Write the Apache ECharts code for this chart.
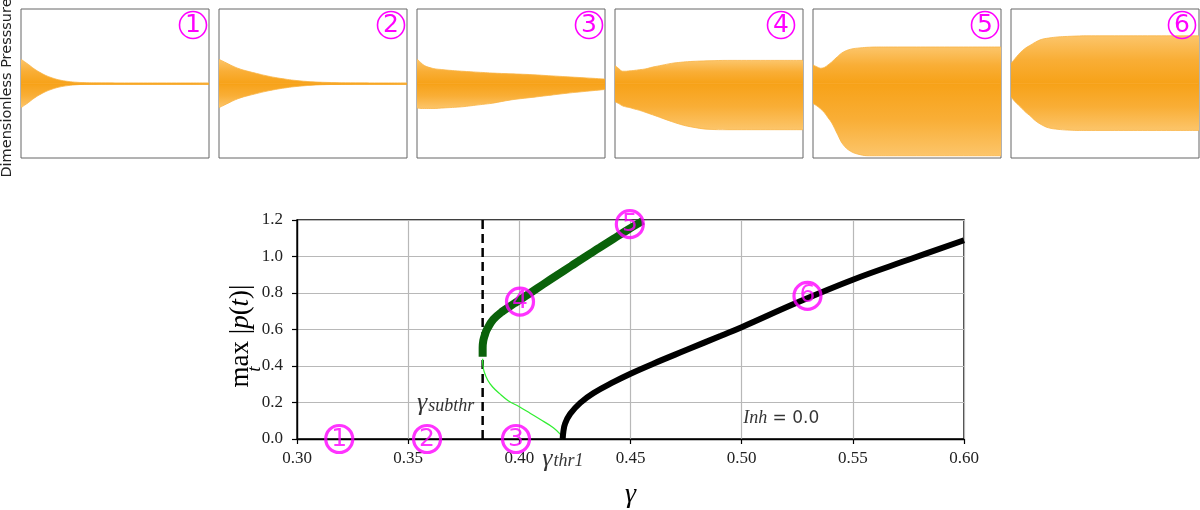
<!DOCTYPE html>
<html>
<head>
<meta charset="utf-8">
<script src="https://cdn.jsdelivr.net/npm/echarts/dist/echarts.min.js"></script>
<style>
  html, body { margin: 0; padding: 0; background: #fff; }
  #main { width: 1200px; height: 510px; }
</style>
</head>
<body>
<div id="main"></div>
<script>
// time samples (percent of the window) for the six pressure traces
const T = [0, 2, 4, 6, 8, 10, 13, 16, 20, 25, 30, 35, 40, 50, 60, 70, 80, 90, 100];

// upper / lower envelopes of the dimensionless pressure, one pair per panel
const P1_UP = [0.325, 0.29, 0.255, 0.215, 0.18, 0.15, 0.11, 0.08, 0.05, 0.028, 0.016, 0.011, 0.009, 0.008, 0.008, 0.008, 0.008, 0.008, 0.008];
const P1_LO = [-0.325, -0.29, -0.255, -0.215, -0.18, -0.15, -0.11, -0.08, -0.05, -0.028, -0.016, -0.011, -0.009, -0.008, -0.008, -0.008, -0.008, -0.008, -0.008];
const P2_UP = [0.325, 0.30, 0.275, 0.25, 0.226, 0.205, 0.18, 0.16, 0.135, 0.105, 0.08, 0.06, 0.043, 0.022, 0.013, 0.009, 0.008, 0.008, 0.008];
const P2_LO = [-0.325, -0.30, -0.275, -0.25, -0.226, -0.205, -0.18, -0.16, -0.135, -0.105, -0.08, -0.06, -0.043, -0.022, -0.013, -0.009, -0.008, -0.008, -0.008];
const P3_UP = [0.33, 0.28, 0.24, 0.22, 0.205, 0.195, 0.188, 0.18, 0.172, 0.163, 0.155, 0.148, 0.14, 0.13, 0.12, 0.105, 0.09, 0.075, 0.06];
const P3_LO = [-0.33, -0.335, -0.335, -0.335, -0.335, -0.335, -0.33, -0.325, -0.32, -0.31, -0.295, -0.28, -0.265, -0.22, -0.19, -0.16, -0.13, -0.105, -0.08];
const P4_UP = [0.24, 0.20, 0.165, 0.165, 0.17, 0.175, 0.185, 0.195, 0.22, 0.245, 0.27, 0.285, 0.295, 0.305, 0.31, 0.31, 0.31, 0.31, 0.31];
const P4_LO = [-0.245, -0.27, -0.30, -0.315, -0.325, -0.34, -0.36, -0.385, -0.42, -0.465, -0.51, -0.55, -0.58, -0.615, -0.62, -0.62, -0.62, -0.62, -0.62];
const P5_UP = [0.25, 0.225, 0.205, 0.215, 0.25, 0.29, 0.36, 0.42, 0.46, 0.478, 0.487, 0.49, 0.49, 0.49, 0.49, 0.49, 0.49, 0.49, 0.49];
const P5_LO = [-0.27, -0.30, -0.34, -0.39, -0.46, -0.53, -0.68, -0.82, -0.91, -0.955, -0.97, -0.97, -0.97, -0.97, -0.97, -0.97, -0.97, -0.97, -0.97];
const P6_UP = [0.27, 0.33, 0.39, 0.44, 0.48, 0.51, 0.555, 0.59, 0.61, 0.625, 0.632, 0.637, 0.64, 0.64, 0.64, 0.64, 0.64, 0.64, 0.64];
const P6_LO = [-0.18, -0.24, -0.29, -0.34, -0.39, -0.43, -0.50, -0.55, -0.595, -0.615, -0.625, -0.63, -0.63, -0.63, -0.63, -0.63, -0.63, -0.63, -0.63];
const PANEL_TAGS = ['1', '2', '3', '4', '5', '6'];

// bifurcation diagram: [gamma, max|p|]
const STABLE_UPPER = [[0.3835, 0.451], [0.3835, 0.50], [0.3838, 0.54], [0.3845, 0.57], [0.3855, 0.602], [0.3883, 0.655],
  [0.3925, 0.700], [0.3980, 0.745], [0.4045, 0.797], [0.4108, 0.848], [0.4170, 0.898], [0.4233, 0.948], [0.4296, 0.998],
  [0.4361, 1.048], [0.4425, 1.098], [0.4490, 1.148], [0.4555, 1.195]];
const UNSTABLE = [[0.3835, 0.44], [0.3836, 0.41], [0.3841, 0.372], [0.3858, 0.322], [0.3880, 0.285], [0.3910, 0.250],
  [0.3950, 0.210], [0.40, 0.177], [0.4050, 0.140], [0.4093, 0.108], [0.4153, 0.062], [0.4185, 0.025], [0.4198, 0.0]];
const SUPERCRIT = [[0.4195, 0.0], [0.4198, 0.04], [0.4206, 0.085], [0.4229, 0.138], [0.4274, 0.198], [0.4334, 0.252],
  [0.4425, 0.313], [0.45, 0.358], [0.4605, 0.414], [0.4756, 0.490], [0.4907, 0.566], [0.50, 0.613], [0.525, 0.748],
  [0.55, 0.873], [0.575, 0.982], [0.60, 1.089]];
const GAMMA_SUBTHR = 0.3835;
const MARK_X = [0.319, 0.3585, 0.3985, 0.4003, 0.4497, 0.5296];
const MARK_Y = [0.0, 0.0, 0.0, 0.7525, 1.177, 0.784];

const panels = [[P1_UP, P1_LO], [P2_UP, P2_LO], [P3_UP, P3_LO], [P4_UP, P4_LO], [P5_UP, P5_LO], [P6_UP, P6_LO]];
const tagDx = [16, 16, 16, 22, 16, 17];

const serif = 'Liberation Serif';
const magenta = '#ff00ff';
const core = '#f7a218';
// lighter at the outer edge of the envelope, saturated at the mean line
const fadeUp = { type: 'linear', x: 0, y: 0, x2: 0, y2: 1,
  colorStops: [{ offset: 0, color: '#fcc56a' }, { offset: 0.5, color: '#f9ae36' }, { offset: 1, color: core }] };
const fadeDown = { type: 'linear', x: 0, y: 0, x2: 0, y2: 1,
  colorStops: [{ offset: 0, color: core }, { offset: 0.5, color: '#f9ae36' }, { offset: 1, color: '#fcc56a' }] };

const tagBox = {
  fontFamily: 'DejaVu Sans', fontSize: 25, color: magenta,
  width: 27, height: 27, lineHeight: 29, borderColor: magenta, borderWidth: 1.6, borderRadius: 15,
  align: 'center', verticalAlign: 'middle'
};

let grids = [], xAxes = [], yAxes = [], series = [], graphic = [];

panels.forEach((p, i) => {
  const left = 21 + i * 198, top = 9, w = 188, h = 149;
  grids.push({ left: left, top: top, width: w, height: h, show: true, borderColor: '#666', borderWidth: 1, backgroundColor: 'transparent' });
  xAxes.push({ gridIndex: i, type: 'value', min: 0, max: 100, show: false });
  yAxes.push({ gridIndex: i, type: 'value', min: -1, max: 1, show: false });
  [[p[0], fadeUp], [p[1], fadeDown]].forEach(([env, fill], k) => {
    const s = {
      type: 'line', xAxisIndex: i, yAxisIndex: i, symbol: 'none', smooth: 0.4,
      data: T.map((t, j) => [t, env[j]]),
      lineStyle: { width: 0.8, color: '#f9b445' },
      areaStyle: { color: fill, opacity: 1, origin: 'auto' }
    };
    if (k === 1) {
      // cover the seam where the two half-envelopes meet
      s.markLine = { silent: true, symbol: 'none', label: { show: false },
        lineStyle: { color: core, width: 1.5, type: 'solid' }, data: [{ yAxis: 0 }] };
    }
    series.push(s);
  });
  graphic.push({
    type: 'text', x: left + w - tagDx[i], y: top + 16, z: 100,
    style: Object.assign({ text: PANEL_TAGS[i], fill: magenta, font: '25px "DejaVu Sans"' }, tagBox)
  });
});

// main bifurcation plot
const m = panels.length;
grids.push({ left: 297, top: 220, width: 667, height: 226.7, show: true, borderColor: '#000', borderWidth: 1.4, backgroundColor: 'transparent' });
xAxes.push({
  gridIndex: m, type: 'value', min: 0.3, max: 0.6, interval: 0.05,
  name: 'γ', nameLocation: 'middle', nameGap: 42,
  nameTextStyle: { fontFamily: serif, fontStyle: 'italic', fontSize: 28, color: '#000' },
  axisLine: { show: true, lineStyle: { color: '#000', width: 1.4 } },
  axisTick: { show: true, length: 5, lineStyle: { color: '#000', width: 1.2 } },
  axisLabel: { formatter: v => v.toFixed(2), fontFamily: serif, fontSize: 17, color: '#222', margin: 11 },
  splitLine: { show: true, lineStyle: { color: '#b8b8b8', width: 1.2 } }
});
yAxes.push({
  gridIndex: m, type: 'value', min: 0, max: 1.2, interval: 0.2,
  axisLine: { show: true, lineStyle: { color: '#000', width: 1.4 } },
  axisTick: { show: true, length: 5, lineStyle: { color: '#000', width: 1.2 } },
  axisLabel: { formatter: v => v.toFixed(1), fontFamily: serif, fontSize: 17, color: '#222', margin: 14 },
  splitLine: { show: true, lineStyle: { color: '#b8b8b8', width: 1.2 } }
});

series.push({
  type: 'line', xAxisIndex: m, yAxisIndex: m, symbol: 'none',
  data: [[GAMMA_SUBTHR, 0], [GAMMA_SUBTHR, 1.2]],
  lineStyle: { color: '#000', width: 2.5, type: [9, 5] }
});
series.push({
  type: 'line', xAxisIndex: m, yAxisIndex: m, symbol: 'none', smooth: 0.4,
  data: UNSTABLE, lineStyle: { color: '#33ee33', width: 1.3 }
});
series.push({
  type: 'line', xAxisIndex: m, yAxisIndex: m, symbol: 'none', smooth: 0.4,
  data: SUPERCRIT, lineStyle: { color: '#000', width: 6 }
});
series.push({
  type: 'line', xAxisIndex: m, yAxisIndex: m, symbol: 'none', smooth: 0.4,
  data: STABLE_UPPER, lineStyle: { color: '#0a620a', width: 8, cap: 'butt' }
});
series.push({
  type: 'scatter', xAxisIndex: m, yAxisIndex: m, symbolSize: 0, clip: false, z: 5,
  data: MARK_X.map((x, k) => ({ value: [x, MARK_Y[k]], name: PANEL_TAGS[k] })),
  label: Object.assign({ show: true, position: [0, 0], formatter: d => d.name, backgroundColor: 'transparent' }, tagBox)
});
// text annotations anchored in data space
series.push({
  type: 'scatter', xAxisIndex: m, yAxisIndex: m, symbolSize: 0, clip: false, z: 5,
  data: [
    { value: [0.3797, 0.195], label: { align: 'right', formatter: '{g|γ}{s|subthr}' } },
    { value: [0.4103, -0.108], label: { align: 'left', formatter: '{g|γ}{s|thr1}' } },
    { value: [0.5007, 0.13], label: { align: 'left', formatter: '{s|Inh}{n| = 0.0}' } }
  ],
  label: {
    show: true, position: [0, 0], verticalAlign: 'middle',
    rich: {
      g: { fontFamily: serif, fontStyle: 'italic', fontSize: 26, color: '#000', padding: [0, 1, 0, 0] },
      s: { fontFamily: serif, fontStyle: 'italic', fontSize: 18, color: '#000', padding: [6, 0, 0, 0] },
      n: { fontFamily: 'DejaVu Sans', fontSize: 17, color: '#000', padding: [6, 0, 0, 0] }
    }
  }
});

// y label: max_t |p(t)|
graphic.push({
  type: 'text', x: 241, y: 336, rotation: Math.PI / 2,
  style: {
    text: '{r|max }{r||}{i|p}{r|(}{i|t}{r|)|}', align: 'center', verticalAlign: 'middle',
    rich: {
      r: { fontFamily: serif, fontSize: 27, fill: '#000' },
      i: { fontFamily: serif, fontStyle: 'italic', fontSize: 27, fill: '#000' }
    }
  }
});
graphic.push({
  type: 'text', x: 255, y: 369, rotation: Math.PI / 2,
  style: { text: 't', font: 'italic 19px "Liberation Serif"', fill: '#000', align: 'center', verticalAlign: 'middle' }
});
graphic.push({
  type: 'text', x: 7, y: 88, rotation: Math.PI / 2,
  style: { text: 'Dimensionless Presssure', font: '14.5px "DejaVu Sans"', fill: '#222', align: 'center', verticalAlign: 'middle' }
});

const chart = echarts.init(document.getElementById('main'));
chart.setOption({
  animation: false,
  backgroundColor: '#fff',
  grid: grids,
  xAxis: xAxes,
  yAxis: yAxes,
  series: series,
  graphic: graphic
});
</script>
</body>
</html>
